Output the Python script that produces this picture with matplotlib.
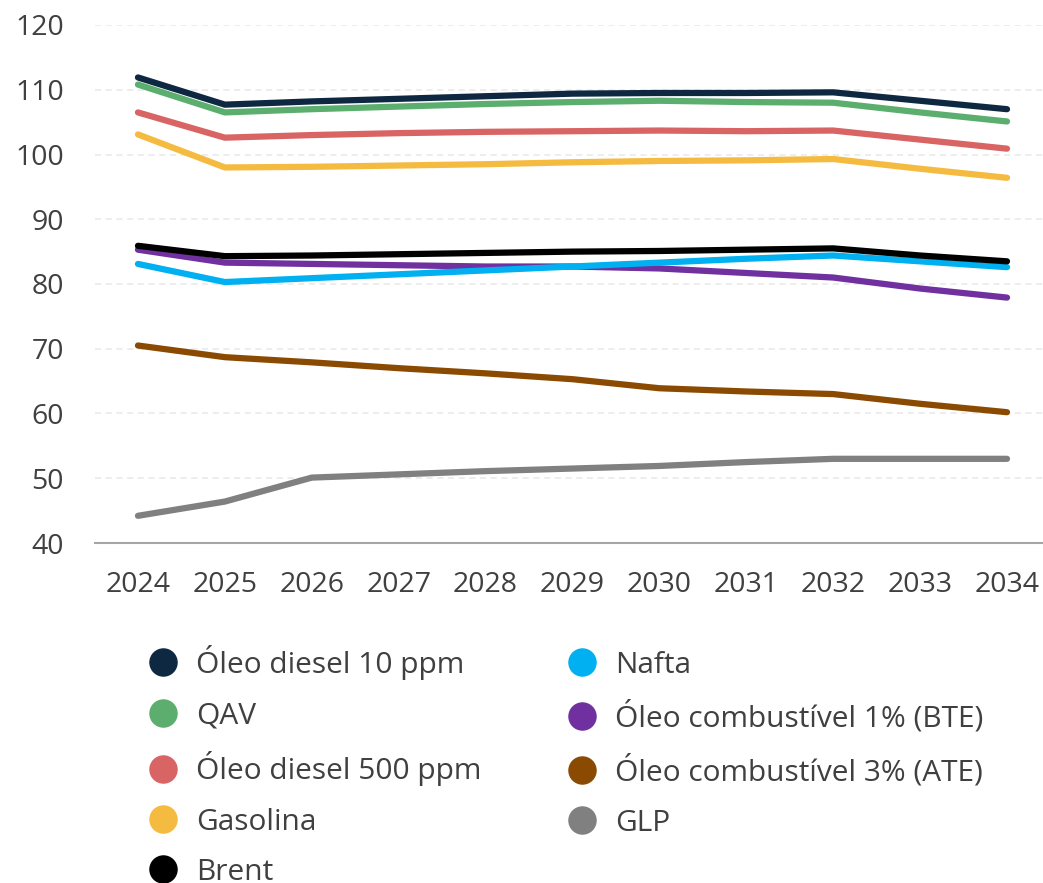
import matplotlib.pyplot as plt
from matplotlib.lines import Line2D

plt.rcParams['font.family'] = ['Open Sans', 'DejaVu Sans']

anos = [2024, 2025, 2026, 2027, 2028, 2029, 2030, 2031, 2032, 2033, 2034]

diesel_10 = [111.9, 107.7, 108.2, 108.6, 109.0, 109.4, 109.5, 109.5, 109.6, 108.3, 107.0]
qav = [110.8, 106.5, 107.0, 107.4, 107.8, 108.1, 108.3, 108.1, 108.0, 106.5, 105.1]
diesel_500 = [106.5, 102.6, 103.0, 103.3, 103.5, 103.6, 103.7, 103.6, 103.7, 102.3, 100.9]
gasolina = [103.1, 98.0, 98.1, 98.3, 98.5, 98.8, 99.0, 99.1, 99.3, 97.8, 96.4]
brent = [85.9, 84.3, 84.4, 84.6, 84.8, 85.0, 85.1, 85.3, 85.5, 84.4, 83.5]
nafta = [83.1, 80.3, 80.9, 81.5, 82.1, 82.7, 83.3, 83.9, 84.4, 83.5, 82.6]
oc_bte = [85.3, 83.3, 83.1, 82.9, 82.7, 82.7, 82.4, 81.7, 81.0, 79.3, 77.9]
oc_ate = [70.5, 68.7, 67.9, 67.0, 66.2, 65.3, 63.9, 63.4, 63.0, 61.5, 60.2]
glp = [44.2, 46.4, 50.1, 50.6, 51.1, 51.5, 51.9, 52.5, 53.0, 53.0, 53.0]

series = [
    ('Óleo diesel 10 ppm', diesel_10, '#0e2841'),
    ('QAV', qav, '#5bae6e'),
    ('Óleo diesel 500 ppm', diesel_500, '#d96464'),
    ('Gasolina', gasolina, '#f5bb40'),
    ('Brent', brent, '#000000'),
    ('Nafta', nafta, '#00b0f0'),
    ('Óleo combustível 1% (BTE)', oc_bte, '#7030a0'),
    ('Óleo combustível 3% (ATE)', oc_ate, '#8b4a02'),
    ('GLP', glp, '#808080'),
]

texto = '#404040'

fig = plt.figure(figsize=(10.43, 8.83), dpi=100)
ax = fig.add_axes([94.5 / 1043, 1 - 543 / 883, (1043 - 94.5) / 1043, (543 - 25) / 883])

# desenha na ordem inversa para o diesel ficar por cima
for nome, vals, cor in reversed(series):
    ax.plot(anos, vals, color=cor, lw=4.5, solid_capstyle='round',
            solid_joinstyle='round', clip_on=False)

ax.set_xlim(2023.5, 2034.414)
ax.set_ylim(40, 120)
ax.set_yticks(range(40, 121, 10))
ax.set_xticks(anos)

ax.yaxis.grid(True, color='#e8e8e8', lw=1.1, ls=(0, (4, 3)))
ax.set_axisbelow(True)
for s in ['top', 'right', 'left']:
    ax.spines[s].set_visible(False)
ax.spines['bottom'].set_color('#a6a6a6')
ax.spines['bottom'].set_linewidth(1.5)
ax.tick_params(axis='both', length=0, labelsize=20.5, labelcolor=texto)
ax.tick_params(axis='y', pad=22)
ax.tick_params(axis='x', pad=20)

handles = [Line2D([], [], ls='none', marker='o', markersize=19.5, color=cor)
           for _, _, cor in series]
labels = [nome for nome, _, _ in series]
leg = fig.legend(handles, labels, ncol=2, loc='upper left',
                 bbox_to_anchor=(130 / 1043, 1 - 630 / 883), frameon=False,
                 fontsize=21.5, labelcolor=texto, handletextpad=0.5,
                 labelspacing=0.71, columnspacing=2.78, handlelength=1.2,
                 borderpad=0)

fig.savefig('out.png', dpi=100)
